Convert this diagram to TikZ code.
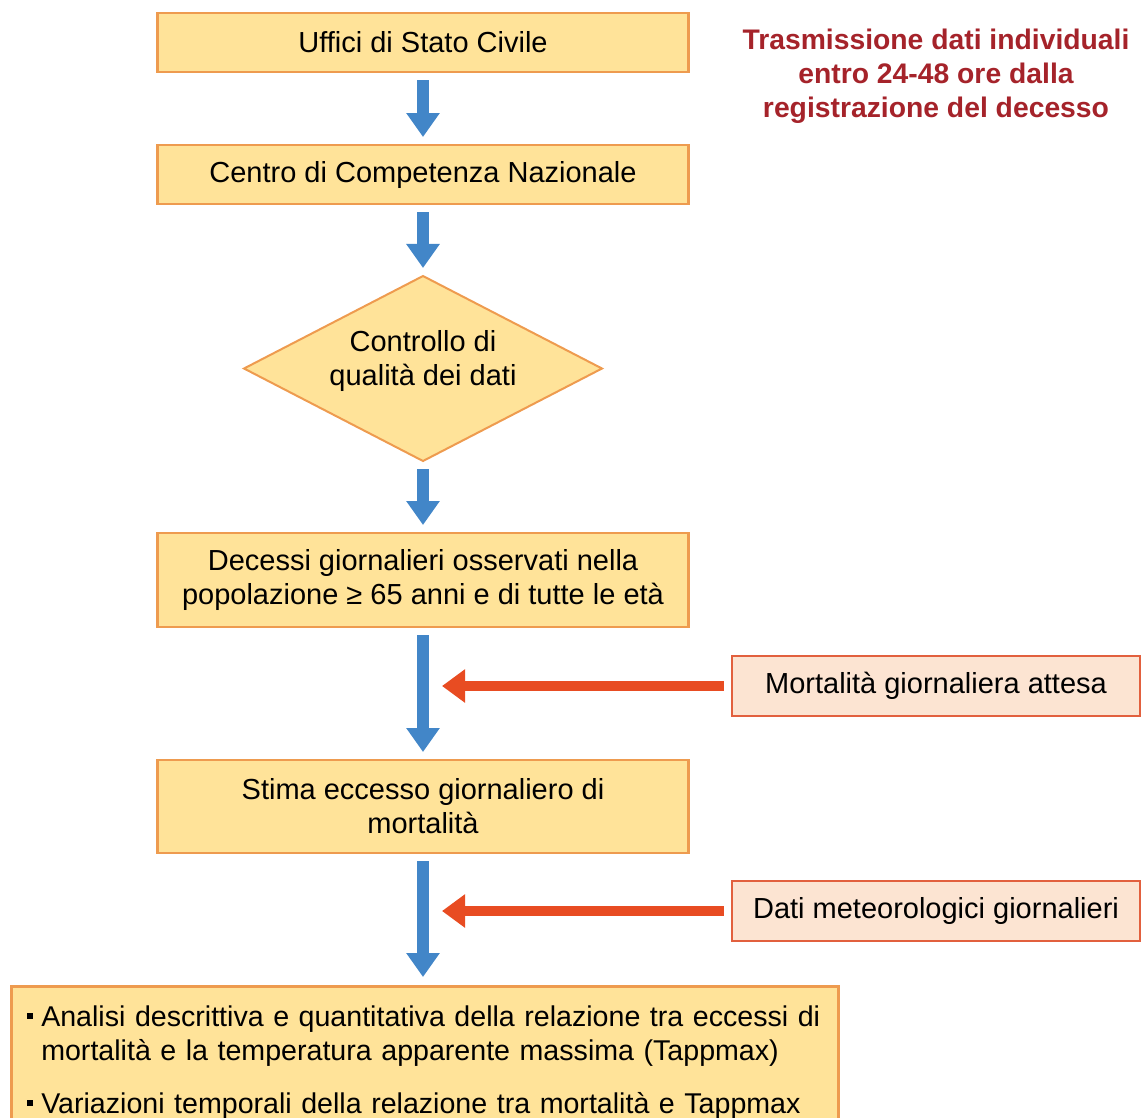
\documentclass[tikz,border=0pt]{standalone}
\usepackage{fontspec}
\setmainfont{Liberation Sans}
\usetikzlibrary{positioning,arrows.meta,shapes.geometric}
\definecolor{boxfill}{HTML}{FFE399}
\definecolor{boxline}{HTML}{EE9B4F}
\definecolor{sidefill}{HTML}{FCE4D2}
\definecolor{sideline}{HTML}{E2603E}
\definecolor{flowblue}{HTML}{4286C8}
\definecolor{flowred}{HTML}{E84C22}
\definecolor{notered}{HTML}{A5232A}
\newcommand{\sqbul}{\rule[7pt]{6pt}{6pt}}
\tikzstyle{flowbox}=[rectangle, draw=boxline, fill=boxfill, line width=2.5pt, outer sep=0pt, minimum width=531pt, inner sep=0pt, align=center, font=\fontsize{29}{34}\selectfont]
\tikzstyle{checknode}=[diamond, draw=boxline, fill=boxfill, line width=2pt, outer sep=0pt, minimum width=358pt, minimum height=185pt, aspect=1.93, inner sep=0pt, align=center, font=\fontsize{29}{34}\selectfont]
\tikzstyle{inbox}=[rectangle, draw=sideline, fill=sidefill, line width=2.5pt, minimum width=408pt, minimum height=60pt, inner sep=0pt, font=\fontsize{29}{34}\selectfont]
\tikzstyle{flowarrow}=[draw=flowblue, line width=12pt, -{Triangle[length=24pt,width=32pt]}, shorten <=8pt, shorten >=8pt]
\tikzstyle{inarrow}=[draw=flowred, line width=10pt, -{Triangle[length=23pt,width=32pt]}, shorten <=7pt]

\begin{document}
\begin{tikzpicture}[x=1pt,y=-1pt]
\useasboundingbox (0,0) rectangle (1142,1117);
%Nodes
\node[flowbox, minimum height=59pt]  (usc)  at (423,42.5)       {Uffici di Stato Civile};
\node[flowbox, minimum height=59pt]  (ccn)  [below=73pt of usc] {Centro di Competenza Nazionale};
\node[checknode]                     (qual) [below=72pt of ccn] {Controllo di\\qualità dei dati\\[-12pt]\mbox{}};
\node[flowbox, minimum height=94pt]  (obs)  [below=72pt of qual] {Decessi giornalieri osservati nella\\popolazione ≥ 65 anni e di tutte le età};
\node[flowbox, minimum height=93pt]  (exc)  [below=133pt of obs] {Stima eccesso giornaliero di\\mortalità};
\node[inbox]  (att)  at (936,686) {Mortalità giornaliera attesa};
\node[inbox]  (met)  at (936,911) {Dati meteorologici giornalieri};
\node[align=center, text=notered, font=\fontsize{28.3}{34}\selectfont\bfseries] (note) at (936,76)
  {Trasmissione dati individuali\\entro 24-48 ore dalla\\registrazione del decesso};
\node[rectangle, draw=boxline, fill=boxfill, line width=2.5pt, anchor=north west, inner xsep=16pt, inner ysep=16pt,
  text width=795pt, align=left, font=\fontsize{28.6}{34}\selectfont] (ana) at (10,985)
  {\begin{tabular}{@{}l@{\hspace{8pt}}l@{}}
   \sqbul & Analisi descrittiva e quantitativa della relazione tra eccessi di\\
          & mortalità e la temperatura apparente massima (Tappmax)\\[19pt]
   \sqbul & Variazioni temporali della relazione tra mortalità e Tappmax
   \end{tabular}};
\coordinate[xshift=19pt] (in1) at (att.west -| obs.south);
\coordinate[xshift=19pt] (in2) at (met.west -| exc.south);
%Lines
\draw[flowarrow] (usc) -- (ccn);
\draw[flowarrow] (ccn) -- (qual);
\draw[flowarrow] (qual) -- (obs);
\draw[flowarrow] (obs) -- (exc);
\draw[flowarrow] (exc.south) -- (exc.south |- ana.north);
\draw[inarrow] (att) -- (in1);
\draw[inarrow] (met) -- (in2);
\end{tikzpicture}
\end{document}
